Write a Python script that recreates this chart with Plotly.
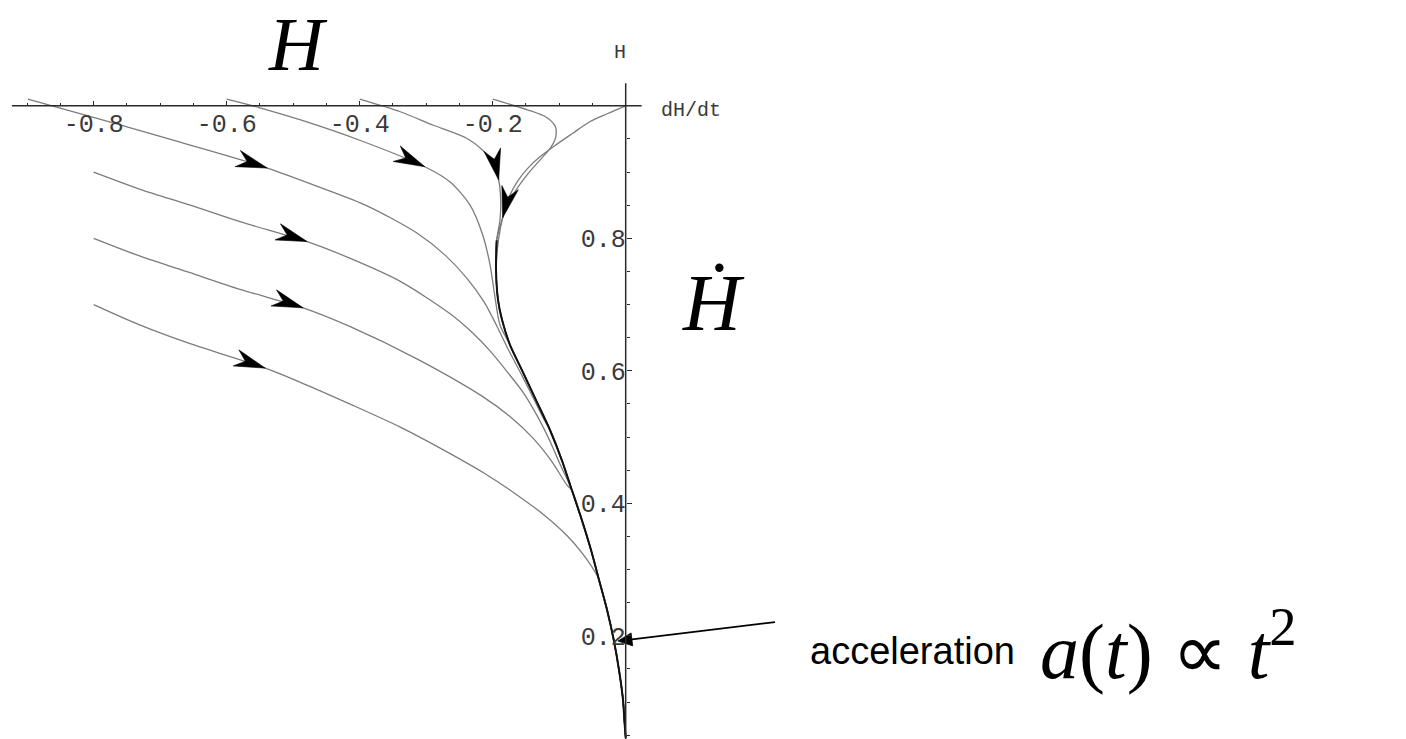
import plotly.graph_objects as go

# ---- phase-plane trajectories: dH/dt (horizontal) against H (vertical) ----
a_x = [-0.899, -0.791, -0.670, -0.539, -0.460, -0.389, -0.314, -0.272, -0.239, -0.213, -0.194, -0.176, -0.157, -0.139, -0.121]
a_h = [1.010, 0.980, 0.945, 0.906, 0.877, 0.849, 0.808, 0.775, 0.740, 0.704, 0.668, 0.631, 0.595, 0.559, 0.523]

b_x = [-0.600, -0.550, -0.490, -0.400, -0.302, -0.264, -0.234, -0.215, -0.204, -0.197, -0.189]
b_h = [1.010, 0.997, 0.979, 0.948, 0.908, 0.885, 0.850, 0.805, 0.760, 0.714, 0.669]

c_x = [-0.400, -0.339, -0.290, -0.239, -0.215, -0.200, -0.191, -0.188, -0.189]
c_h = [1.010, 0.991, 0.971, 0.951, 0.933, 0.915, 0.888, 0.858, 0.828]

d_x = [-0.200, -0.148, -0.120, -0.106, -0.105, -0.112, -0.129, -0.148, -0.168, -0.182, -0.191]
d_h = [1.010, 0.994, 0.983, 0.969, 0.954, 0.938, 0.918, 0.896, 0.868, 0.840, 0.810]

e_x = [0.000, -0.028, -0.054, -0.079, -0.105, -0.129, -0.147, -0.162, -0.176, -0.185, -0.191]
e_h = [1.000, 0.988, 0.976, 0.959, 0.941, 0.923, 0.906, 0.887, 0.861, 0.831, 0.800]

f_x = [-0.800, -0.730, -0.655, -0.580, -0.479, -0.415, -0.339, -0.264, -0.230, -0.204, -0.177, -0.154, -0.132, -0.114, -0.100]
f_h = [0.900, 0.874, 0.850, 0.825, 0.795, 0.770, 0.735, 0.686, 0.657, 0.630, 0.597, 0.567, 0.530, 0.494, 0.462]

g_x = [-0.800, -0.730, -0.655, -0.580, -0.485, -0.415, -0.314, -0.215, -0.174, -0.139, -0.111, -0.088]
g_h = [0.800, 0.773, 0.748, 0.723, 0.695, 0.667, 0.618, 0.561, 0.531, 0.498, 0.463, 0.427]

h_x = [-0.800, -0.730, -0.655, -0.542, -0.490, -0.415, -0.339, -0.264, -0.212, -0.164, -0.121, -0.088, -0.064, -0.043]
h_h = [0.700, 0.669, 0.641, 0.604, 0.583, 0.550, 0.515, 0.475, 0.445, 0.413, 0.381, 0.351, 0.323, 0.291]

# common attracting branch that every trajectory ends on
trunk_x = [-0.194, -0.195, -0.192, -0.186, -0.174, -0.156, -0.135, -0.114, -0.096, -0.081,
           -0.066, -0.052, -0.040, -0.028, -0.018, -0.010, -0.004, -0.002, 0.000]
trunk_h = [0.797, 0.752, 0.707, 0.677, 0.639, 0.601, 0.556, 0.511, 0.465, 0.420,
           0.375, 0.329, 0.284, 0.239, 0.194, 0.148, 0.103, 0.073, 0.046]

# point on the branch that the "acceleration" pointer marks
pointer_x = -0.0116
pointer_h = 0.192

x_ticks = [-0.8, -0.6, -0.4, -0.2]
x_tick_text = ["-0.8", "-0.6", "-0.4", "-0.2"]
y_ticks = [0.2, 0.4, 0.6, 0.8]
y_tick_text = ["0.2", "0.4", "0.6", "0.8"]
x_minor = [-0.9, -0.85, -0.75, -0.7, -0.65, -0.55, -0.5, -0.45, -0.35, -0.3, -0.25, -0.15, -0.1, -0.05]
y_minor = [0.05, 0.1, 0.15, 0.25, 0.3, 0.35, 0.45, 0.5, 0.55, 0.65, 0.7, 0.75, 0.85, 0.9, 0.95]

curves = [(a_x, a_h), (b_x, b_h), (c_x, c_h), (d_x, d_h), (e_x, e_h), (f_x, f_h), (g_x, g_h), (h_x, h_h)]
# index of the point carrying a direction arrow on each curve (None = no arrow)
arrow_idx = [3, 4, 6, None, 9, 4, 4, 3]

# ---- frame: axes cross at (0, 1) and both scales share the same pixel size ----
W, HGT = 1406, 739
X0, X1 = -0.9409, 1.1734
Y0, Y1 = 0.0442, 1.1597
sx = W / (X1 - X0)
sy = HGT / (Y1 - Y0)


def extend_on_trunk(xs, hs):
    last = hs[-1]
    keep = [i for i, h in enumerate(trunk_h) if h < last - 0.006]
    return xs + [trunk_x[i] for i in keep], hs + [trunk_h[i] for i in keep]


def head_polygon(tip_x, tip_y, ux, uy, length, half, notch):
    nx, ny = -uy, ux
    shape = [(0, 0), (-length, half), (-notch * length, 0), (-length, -half), (0, 0)]
    px = [tip_x + (a * ux + b * nx) / sx for a, b in shape]
    py = [tip_y + (a * uy + b * ny) / sy for a, b in shape]
    return px, py


def arrow_head(xs, hs, k, length=31.0, half=8.5):
    dx = (xs[k + 1] - xs[k - 1]) * sx
    dy = (hs[k + 1] - hs[k - 1]) * sy
    n = (dx * dx + dy * dy) ** 0.5
    return head_polygon(xs[k], hs[k], dx / n, dy / n, length, half, 0.68)


fig = go.Figure()

full = [extend_on_trunk(list(cx), list(ch)) for cx, ch in curves]
for cx, ch in full:
    fig.add_trace(go.Scatter(x=cx, y=ch, mode="lines",
                             line=dict(color="#7c7c7c", width=1.3, shape="spline", smoothing=0.8),
                             hoverinfo="skip"))

fig.add_trace(go.Scatter(x=trunk_x, y=trunk_h, mode="lines",
                         line=dict(color="#111111", width=2.0, shape="spline", smoothing=0.8),
                         hoverinfo="skip"))

for (cx, ch), k in zip(full, arrow_idx):
    if k is None:
        continue
    ax_, ay_ = arrow_head(cx, ch, k)
    fig.add_trace(go.Scatter(x=ax_, y=ay_, mode="lines", fill="toself",
                             fillcolor="#000000", line=dict(color="#000000", width=0.6),
                             hoverinfo="skip"))

# pointer from the label to the branch: a shaft plus a solid triangular head
tail_dx, tail_dy = 157.0, 19.0          # pixel offset of the shaft's far end
tail_x = pointer_x + tail_dx / sx
tail_h = pointer_h + tail_dy / sy
n = (tail_dx ** 2 + tail_dy ** 2) ** 0.5
ux, uy = -tail_dx / n, -tail_dy / n
fig.add_trace(go.Scatter(x=[tail_x, pointer_x + 10 * tail_dx / n / sx],
                         y=[tail_h, pointer_h + 10 * tail_dy / n / sy],
                         mode="lines", line=dict(color="black", width=1.8), hoverinfo="skip"))
px_, py_ = head_polygon(pointer_x, pointer_h, ux, uy, 14.0, 6.5, 1.0)
fig.add_trace(go.Scatter(x=px_, y=py_, mode="lines", fill="toself", fillcolor="black",
                         line=dict(color="black", width=0.8), hoverinfo="skip"))

# axis lines through the origin of the phase plane
fig.add_shape(type="line", x0=-0.923, x1=0.024, y0=1.0, y1=1.0,
              line=dict(color="#2a2a2a", width=1.5), layer="above")
fig.add_shape(type="line", x0=0.0, x1=0.0, y0=1.034, y1=0.03,
              line=dict(color="#2a2a2a", width=1.5), layer="above")

tick_font = dict(family="Liberation Mono, Courier New, monospace", size=25, color="#3a3a3a")

fig.update_layout(
    width=W, height=HGT,
    margin=dict(l=0, r=0, t=0, b=0),
    paper_bgcolor="white", plot_bgcolor="white",
    showlegend=False,
    xaxis=dict(range=[X0, X1], anchor="free", position=(1.0 - Y0) / (Y1 - Y0),
               showgrid=False, zeroline=False, showline=False,
               tickmode="array", tickvals=x_ticks, ticktext=x_tick_text,
               ticks="inside", ticklen=5, tickwidth=1.3, tickcolor="#2a2a2a",
               tickfont=tick_font,
               minor=dict(tickmode="array", tickvals=x_minor, ticks="inside",
                          ticklen=3, tickwidth=1.1, tickcolor="#2a2a2a", showgrid=False)),
    yaxis=dict(range=[Y0, Y1], anchor="free", position=(0.0 - X0) / (X1 - X0),
               showgrid=False, zeroline=False, showline=False,
               tickmode="array", tickvals=y_ticks, ticktext=y_tick_text,
               ticks="inside", ticklen=5, tickwidth=1.3, tickcolor="#2a2a2a",
               tickfont=tick_font,
               minor=dict(tickmode="array", tickvals=y_minor, ticks="inside",
                          ticklen=3, tickwidth=1.1, tickcolor="#2a2a2a", showgrid=False)),
)

mono = dict(family="Liberation Mono, Courier New, monospace", size=20, color="#3a3a3a")
serif_big = dict(family="Liberation Serif, Times New Roman, serif", size=76, color="black")
serif = dict(family="Liberation Serif, Times New Roman, serif", size=80, color="black")


def px_to_paper(px, py):
    return px / W, 1.0 - py / HGT


annos = [
    ("H", 620, 52, mono, "center", "middle"),
    ("dH/dt", 691, 111, mono, "center", "middle"),
    ("<i>H</i>", 298, 0, serif_big, "center", "top"),
    ("<i>Ḣ</i>", 713, 303, serif, "center", "middle"),
    ("acceleration", 912, 651,
     dict(family="Liberation Sans, Arial, sans-serif", size=38, color="black"), "center", "middle"),
    ("<i>a</i>(<i>t</i>) ∝ <i>t</i><sup>2</sup>", 1038, 645,
     dict(family="Liberation Serif, Times New Roman, serif", size=78, color="black"), "left", "middle"),
]
for text, px, py, font, xa, ya in annos:
    xp, yp = px_to_paper(px, py)
    fig.add_annotation(text=text, x=xp, y=yp, xref="paper", yref="paper",
                       xanchor=xa, yanchor=ya, showarrow=False, font=font)

fig.write_html("out.html")
